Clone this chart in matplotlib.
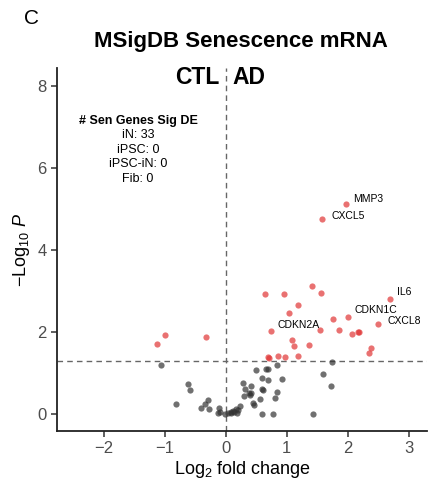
import matplotlib
matplotlib.use("Agg")
import matplotlib.pyplot as plt
import numpy as np

plt.rcParams['font.family'] = ['Liberation Sans', 'DejaVu Sans']
plt.rcParams['mathtext.fontset'] = 'custom'
plt.rcParams['mathtext.rm'] = 'Liberation Sans'
plt.rcParams['mathtext.it'] = 'Liberation Sans:italic'

# Significant (red) genes: log2 fold change, -log10 P
sig_lfc = [1.97, 1.58, 1.41, 0.65, 0.96, 1.56, 2.70, 1.19, 1.03, 2.00, 1.76, 2.49,
           0.74, 1.55, 1.85, 2.16, 2.18, 2.07, 1.09, 1.12, 1.37, 2.38, 2.35, 0.69,
           0.71, 0.85, 0.97, 1.19, -1.13, -1.00, -0.33]
sig_p = [5.12, 4.77, 3.14, 2.93, 2.93, 2.95, 2.82, 2.67, 2.46, 2.37, 2.32, 2.21,
         2.04, 2.06, 2.06, 2.01, 2.00, 1.95, 1.80, 1.67, 1.69, 1.62, 1.49, 1.40,
         1.38, 1.43, 1.39, 1.41, 1.71, 1.94, 1.88]

# Non-significant (grey) genes
ns_lfc = [-1.07, -0.62, -0.58, -0.81, -0.30, -0.34, -0.40, -0.27, -0.11, -0.13,
          -0.02, 0.04, 0.09, 0.14, 0.17, 0.23, 0.19, 0.28, 0.41, 0.32, 0.29, 0.38,
          0.40, 0.45, 0.46, 0.56, 0.60, 0.60, 0.69, 0.80, 0.84, 0.92, 0.50, 0.69,
          0.84, 1.74, 1.60, 1.72, 0.585, 0.78, 1.43, 0.66, 0.61, 0.42, 0.08, 0.12,
          -0.10, 0.20]
ns_p = [1.20, 0.74, 0.58, 0.24, 0.35, 0.25, 0.15, 0.12, 0.16, 0.02,
        0.00, 0.02, 0.05, 0.06, 0.12, 0.19, 0.04, 0.75, 0.68, 0.62, 0.45, 0.51,
        0.46, 0.28, 0.22, 0.36, 0.61, 0.89, 0.84, 0.40, 0.55, 0.86, 1.07, 1.10,
        1.19, 1.27, 0.98, 0.69, 0.00, 0.00, 0.00, 1.10, 0.59, 0.51, 0.03, 0.08,
        0.05, 0.10]

# Labelled genes: name and label position
lab_names = ["MMP3", "CXCL5", "IL6", "CDKN1C", "CXCL8", "CDKN2A"]
lab_x = [2.09, 1.74, 2.81, 2.11, 2.65, 0.85]
lab_y = [5.25, 4.83, 2.98, 2.54, 2.28, 2.18]

count_title = "# Sen Genes Sig DE"
count_lines = ["iN: 33", "iPSC: 0", "iPSC-iN: 0", "Fib: 0"]

fig = plt.figure(figsize=(4.33, 4.88), dpi=100)
ax = fig.add_axes([57/433, 1 - 431/488, (427-57)/433, (431-68)/488])

ax.scatter(ns_lfc, ns_p, s=20, color='#333333', alpha=0.7, linewidths=0, zorder=3)
ax.scatter(sig_lfc, sig_p, s=20, color='#e03535', alpha=0.7, linewidths=0, zorder=3)

ax.axvline(0, color='#666666', lw=1.0, ls=(0, (4, 3)), zorder=2)
ax.axhline(-np.log10(0.05), color='#666666', lw=1.0, ls=(0, (4, 3)), zorder=2)

for n, x, y in zip(lab_names, lab_x, lab_y):
    ax.text(x, y, n, fontsize=7.5, ha='left', va='center', color='black')

ax.text(-0.1, 8.23, "CTL", fontsize=16.5, fontweight='bold', ha='right', va='center')
ax.text(0.1, 8.23, "AD", fontsize=16.5, fontweight='bold', ha='left', va='center')

ax.text(-1.44, 7.15, count_title, fontsize=9, fontweight='bold', ha='center', va='center')
for i, line in enumerate(count_lines):
    ax.text(-1.44, 6.81 - i * 0.355, line, fontsize=9, ha='center', va='center')

ax.set_xlim(-2.77, 3.30)
ax.set_ylim(-0.41, 8.45)
ax.set_xticks([-2, -1, 0, 1, 2, 3])
ax.set_xticklabels(['\u22122', '\u22121', '0', '1', '2', '3'])
ax.set_yticks([0, 2, 4, 6, 8])

for s in ['top', 'right']:
    ax.spines[s].set_visible(False)
for s in ['left', 'bottom']:
    ax.spines[s].set_linewidth(1.3)
    ax.spines[s].set_color('#222222')
ax.tick_params(axis='both', direction='out', length=4, width=1.1, color='#333333',
               labelsize=12, labelcolor='#4d4d4d')

ax.set_xlabel(r'$\mathregular{Log_{2}}$ fold change', fontsize=13, labelpad=2)
ax.set_ylabel(r'$\mathregular{-Log_{10}}$ $\mathit{P}$', fontsize=13, labelpad=4)

fig.text(241/433, 1 - 42/488, "MSigDB Senescence mRNA", fontsize=16, fontweight='bold',
         ha='center', va='center')
fig.text(24/433, 1 - 19/488, "C", fontsize=15, ha='left', va='center')

fig.savefig("out.png", dpi=100)
